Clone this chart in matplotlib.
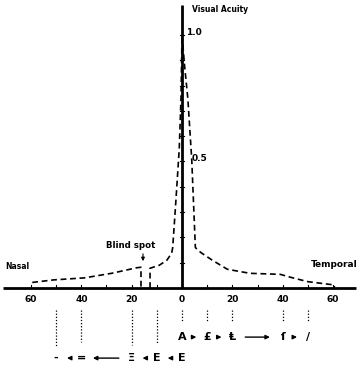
import matplotlib.pyplot as plt

# visual acuity vs eccentricity (degrees, nasal negative)
nasal_deg = [-59.5, -51, -38.8, -28, -18, -16.3, -16.3]
nasal_va = [0.022, 0.032, 0.04, 0.058, 0.08, 0.082, 0.0]

central_deg = [-12.7, -12.7, -9, -6, -4.1, -3.7, -2.4, -1.1, -0.4, 0, 1.0, 2.3, 3.85, 5.3,
               6.3, 7.5, 12, 18, 27, 39, 44, 50, 60.5, 60.5]
central_va = [0.0, 0.078, 0.09, 0.11, 0.138, 0.16, 0.35, 0.55, 0.75, 1.0, 0.88, 0.75, 0.51, 0.16,
              0.15, 0.14, 0.11, 0.074, 0.058, 0.054, 0.04, 0.025, 0.012, 0.0]

tick_deg = [-60, -40, -20, 0, 20, 40, 60]
tick_labels = ["60", "40", "20", "0", "20", "40", "60"]

# letters seen at each eccentricity
temporal_deg = [0, 10, 20, 40, 50]
temporal_letters = ["A", "£", "Ⱡ", "ſ", "/"]
nasal_letter_deg = [0, -10, -20, -40, -50]
nasal_letters = ["E", "E", "Ξ", "=", "-"]
nasal_dot_ends = [-0.233, -0.22, -0.225, -0.215, -0.233]

fig = plt.figure(figsize=(3.58, 3.70), dpi=100)
ax = fig.add_axes([0, 0, 1, 1])
ax.set_xlim(-72.3, 69.9)
ax.set_ylim(-0.324, 1.138)
ax.axis("off")

bold = dict(fontweight="bold", family="DejaVu Sans", color="black")

# axes
ax.plot([-71.1, 69.1], [0, 0], color="black", lw=2.0, solid_capstyle="butt")
ax.plot([0, 0], [0, 1.12], color="black", lw=2.0, solid_capstyle="butt")
for d in range(-60, 61, 10):
    ax.plot([d, d], [0, 0.012], color="black", lw=0.8)
for k in range(1, 11):
    ax.plot([-0.8, 0.8], [k / 10, k / 10], color="black", lw=0.8)

# the curve
line1, = ax.plot(nasal_deg, nasal_va, color="black", lw=1.2)
line2, = ax.plot(central_deg, central_va, color="black", lw=1.2)
for ln in (line1, line2):
    ln.set_dashes((3.5, 2.2))

for d, lab in zip(tick_deg, tick_labels):
    ax.text(d, -0.047, lab, ha="center", va="center", fontsize=6.5, **bold)

ax.text(4, 1.10, "Visual Acuity", ha="left", va="center", fontsize=5.5, **bold)
ax.text(1.6, 1.008, "1.0", ha="left", va="center", fontsize=6.5, **bold)
ax.text(4, 0.51, "0.5", ha="left", va="center", fontsize=6.5, **bold)
ax.text(-70.3, 0.083, "Nasal", ha="left", va="center", fontsize=5.5, **bold)
ax.text(69.8, 0.091, "Temporal", ha="right", va="center", fontsize=6.5, **bold)
ax.text(-20.3, 0.166, "Blind spot", ha="center", va="center", fontsize=6.2, **bold)
ax.annotate("", xy=(-15.5, 0.095), xytext=(-15.5, 0.146),
            arrowprops=dict(arrowstyle="-|>", color="black", lw=0.8,
                            mutation_scale=5))

# dotted drop lines below the axis
for d in temporal_deg:
    ax.plot([d, d], [-0.087, -0.134], color="black", lw=0.9, ls=(0, (1, 1.5)))
for d, end in zip(nasal_letter_deg[1:], nasal_dot_ends[1:]):
    ax.plot([d, d], [-0.087, end], color="black", lw=0.9, ls=(0, (1, 1.5)))

# letter sequences
for d, s in zip(temporal_deg, temporal_letters):
    ax.text(d, -0.194, s, ha="center", va="center", fontsize=8, **bold)
for d, s in zip(nasal_letter_deg, nasal_letters):
    ax.text(d, -0.277, s, ha="center", va="center", fontsize=8, **bold)

arrow = dict(arrowstyle="-|>", color="black", lw=1.0, mutation_scale=6)
for a, b in zip(temporal_deg[:-1], temporal_deg[1:]):
    if b - a > 10:
        ax.annotate("", xy=(b - 4, -0.194), xytext=(a + 4, -0.194), arrowprops=arrow)
    else:
        ax.annotate("", xy=(b - 3.2, -0.194), xytext=(a + 3.2, -0.194), arrowprops=arrow)
for a, b in zip(nasal_letter_deg[:-1], nasal_letter_deg[1:]):
    if a - b > 10:
        ax.annotate("", xy=(b + 3.5, -0.277), xytext=(a - 4, -0.277), arrowprops=arrow)
    else:
        ax.annotate("", xy=(b + 3.2, -0.277), xytext=(a - 3.2, -0.277), arrowprops=arrow)

fig.savefig("out.png", dpi=100)
